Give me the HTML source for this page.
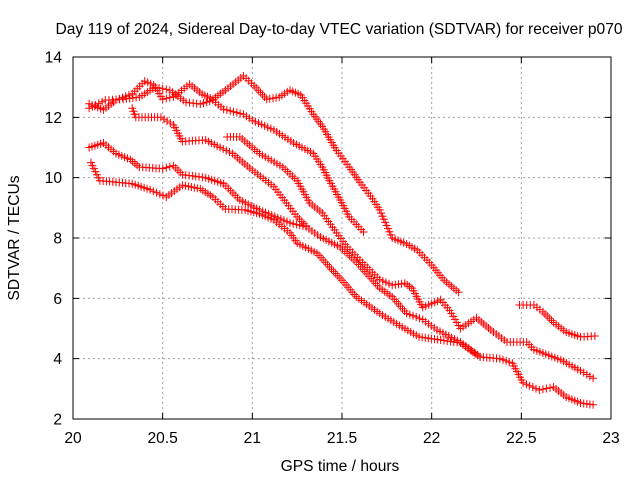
<!DOCTYPE html>
<html><head><meta charset="utf-8"><style>
body{margin:0;background:#fff;}
svg{display:block;font-family:"Liberation Sans",sans-serif;}
</style></head><body>
<svg id="chart" width="640" height="480" viewBox="0 0 640 480" xmlns="http://www.w3.org/2000/svg">
<rect x="0" y="0" width="640" height="480" fill="#fff"/>
<text x="339" y="34" font-size="15.6" text-anchor="middle" fill="#000">Day 119 of 2024, Sidereal Day-to-day VTEC variation (SDTVAR) for receiver p070</text>
<text x="340" y="471" font-size="15.6" text-anchor="middle" fill="#000">GPS time / hours</text>
<text x="19" y="238" font-size="15.6" text-anchor="middle" fill="#000" transform="rotate(-90 19 238)">SDTVAR / TECUs</text>
<g id="grid"></g>
<g id="series"></g>
<rect x="73" y="57" width="538" height="362" fill="none" stroke="#000" stroke-width="1"/>
<g id="ticks"></g>
</svg>
<script>
const xTicks=[20,20.5,21,21.5,22,22.5,23];
const xTickLabels=["20","20.5","21","21.5","22","22.5","23"];
const yTicks=[2,4,6,8,10,12,14];
const yTickLabels=["2","4","6","8","10","12","14"];
const seriesA_x=[20.09,20.17,20.24,20.33,20.4,20.45,20.5,20.56,20.65,20.72,20.78,20.85,20.95,21.01,21.08,21.15,21.21,21.27,21.34,21.39,21.47,21.54,21.6,21.67,21.71,21.78,21.86,21.92,22.0,22.07,22.15];
const seriesA_y=[12.45,12.25,12.57,12.78,13.2,13.07,12.6,12.68,13.1,12.77,12.6,12.9,13.37,13.05,12.6,12.67,12.9,12.74,12.1,11.7,10.9,10.35,9.85,9.3,8.93,8.0,7.8,7.6,7.1,6.6,6.2];
const seriesB_x=[20.09,20.18,20.28,20.37,20.46,20.54,20.63,20.71,20.78,20.84,20.95,21.0,21.12,21.23,21.34,21.39,21.43,21.49,21.54,21.62];
const seriesB_y=[12.3,12.57,12.6,12.67,13.0,12.9,12.5,12.44,12.57,12.27,12.1,11.9,11.58,11.15,10.8,10.35,9.9,9.26,8.7,8.2];
const seriesC_x=[20.33,20.35,20.49,20.56,20.61,20.74,20.82,20.89,20.93,21.0,21.12,21.19,21.25,21.3];
const seriesC_y=[12.3,12.0,12.0,11.75,11.2,11.25,11.0,10.8,10.59,10.25,9.7,9.16,8.7,8.4];
const seriesD_x=[20.86,20.93,21.04,21.17,21.25,21.32,21.39,21.47,21.53,21.6,21.71,21.78,21.85,21.89,21.95,22.05,22.1,22.16,22.25,22.33,22.42,22.53,22.57,22.72,22.83,22.9];
const seriesD_y=[11.35,11.35,10.8,10.35,9.9,9.16,8.83,8.17,7.7,7.27,6.62,6.44,6.5,6.34,5.7,5.95,5.6,5.0,5.35,4.95,4.55,4.55,4.3,3.96,3.6,3.35];
const seriesE_x=[20.09,20.17,20.24,20.32,20.37,20.5,20.56,20.61,20.74,20.84,20.93,21.04,21.21,21.3,21.38,21.49,21.58,21.71,21.78,21.86,21.95,22.03,22.16,22.27,22.38,22.45,22.51,22.6,22.68,22.75,22.83,22.9];
const seriesE_y=[11.0,11.15,10.8,10.6,10.35,10.3,10.4,10.1,10.0,9.8,9.26,8.93,8.5,8.37,8.03,7.7,7.2,6.34,6.05,5.5,5.3,4.95,4.55,4.06,4.0,3.85,3.2,2.96,3.06,2.73,2.53,2.47];
const seriesF_x=[20.1,20.15,20.24,20.33,20.43,20.52,20.61,20.71,20.78,20.85,20.96,21.04,21.12,21.21,21.25,21.36,21.43,21.5,21.58,21.71,21.82,21.93,22.05,22.16,22.23,22.27];
const seriesF_y=[10.5,9.9,9.85,9.8,9.6,9.36,9.75,9.63,9.36,8.96,8.93,8.8,8.6,8.17,7.83,7.5,7.04,6.6,6.05,5.5,5.1,4.72,4.62,4.52,4.22,4.06];
const seriesG_x=[22.49,22.57,22.62,22.68,22.75,22.83,22.91];
const seriesG_y=[5.78,5.78,5.55,5.2,4.88,4.72,4.75];

const X0=73,X1=611,Y0=419,Y1=57;
function xs(v){return X0+(v-20)/(23-20)*(X1-X0);}
function ys(v){return Y0-(v-2)/(14-2)*(Y0-Y1);}
const NS="http://www.w3.org/2000/svg";
const grid=document.getElementById('grid');
const ticks=document.getElementById('ticks');
function mk(tag,attrs,parent){const e=document.createElementNS(NS,tag);for(const k in attrs)e.setAttribute(k,attrs[k]);parent.appendChild(e);return e;}
xTicks.forEach((t,i)=>{
  const x=xs(t);
  if(i>0&&i<xTicks.length-1){
    const g=mk('line',{x1:x,y1:Y1,x2:x,y2:Y0,stroke:'#a0a0a0','stroke-dasharray':'2,3','stroke-width':1},grid);
    
    
  }
  const tk=mk('path',{d:`M${x},${Y0}v-6M${x},${Y1}v6`,stroke:'#000','stroke-width':1},ticks);
  
  
  const l=mk('text',{x:x,y:443,'font-size':15.6,'text-anchor':'middle',fill:'#000'},ticks);
  l.textContent=xTickLabels[i];
  
  
});
yTicks.forEach((t,i)=>{
  const y=ys(t);
  if(i>0&&i<yTicks.length-1){
    const g=mk('line',{x1:X0,y1:y,x2:X1,y2:y,stroke:'#a0a0a0','stroke-dasharray':'2,3','stroke-width':1},grid);
    
    
  }
  const tk=mk('path',{d:`M${X0},${y}h6M${X1},${y}h-6`,stroke:'#000','stroke-width':1},ticks);
  
  
  const l=mk('text',{x:62,y:y+5.5,'font-size':15.6,'text-anchor':'end',fill:'#000'},ticks);
  l.textContent=yTickLabels[i];
  
  
});
const sg=document.getElementById('series');
const all=[[seriesA_x,seriesA_y,'a'],[seriesB_x,seriesB_y,'b'],[seriesC_x,seriesC_y,'c'],[seriesD_x,seriesD_y,'d'],[seriesE_x,seriesE_y,'e'],[seriesF_x,seriesF_y,'f'],[seriesG_x,seriesG_y,'g']];
all.forEach(([sx,sy,id])=>{
  const g=mk('g',{},sg);
  
  
  let d='';
  for(let i=0;i<sx.length;i++){
    const x=xs(sx[i]),y=ys(sy[i]);
    if(i>0){
      const px=xs(sx[i-1]),py=ys(sy[i-1]);
      const len=Math.hypot(x-px,y-py);
      const n=Math.max(1,Math.round(len/3.3));
      for(let k=1;k<=n;k++){
        const qx=px+(x-px)*k/n,qy=py+(y-py)*k/n;
        d+=`M${(qx-4).toFixed(1)},${qy.toFixed(1)}h8M${qx.toFixed(1)},${(qy-4).toFixed(1)}v8`;
      }
    } else {
      d+=`M${x-4},${y}h8M${x},${y-4}v8`;
    }
  }
  const p=mk('path',{d:d,stroke:'#ff0000','stroke-width':1,fill:'none'},g);
  
  
});
</script>
</body></html>
